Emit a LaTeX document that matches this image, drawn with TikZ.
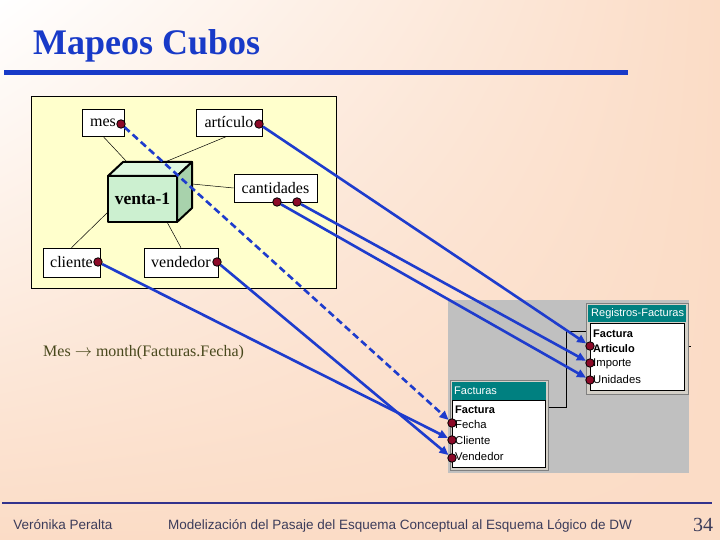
\documentclass[tikz,border=0pt]{standalone}
\usepackage{fontspec}
\setmainfont{Liberation Serif}
\newfontfamily\winfont{Liberation Sans}
\usetikzlibrary{arrows.meta,shadings}
\definecolor{peach}{RGB}{251,220,198}
\definecolor{paleyellow}{RGB}{255,255,204}
\definecolor{titleblue}{RGB}{24,58,200}
\definecolor{mapblue}{RGB}{30,60,205}
\definecolor{dotred}{RGB}{140,10,40}
\definecolor{cubefront}{RGB}{204,240,208}
\definecolor{cubetop}{RGB}{222,248,224}
\definecolor{cubeside}{RGB}{168,210,172}
\definecolor{wingray}{RGB}{192,192,192}
\definecolor{winface}{RGB}{212,208,200}
\definecolor{teal}{RGB}{0,128,128}
\definecolor{footblue}{RGB}{50,50,140}
\definecolor{foottext}{RGB}{60,60,90}
\definecolor{olive}{RGB}{72,72,28}
\begin{document}
\begin{tikzpicture}[x=1pt,y=-1pt,
  attr/.style={draw=black, fill=white, line width=0.6pt, inner sep=0pt,
    font=\fontsize{16}{16}\selectfont},
  dot/.style={circle, draw=black, fill=dotred, line width=0.8pt, minimum size=8.5pt, inner sep=0pt},
  map/.style={draw=mapblue, line width=2.6pt, -{Triangle[length=9pt,width=8pt]}},
  dashmap/.style={map, dash pattern=on 7pt off 4pt},
  link/.style={draw=black, line width=0.5pt},
  cubeface/.style={draw=black, line width=2pt, line join=round},
  field/.style={anchor=west, inner sep=0pt, font=\winfont\fontsize{11.3}{11.3}\selectfont},
  boldfield/.style={field, font=\winfont\bfseries\fontsize{11}{11}\selectfont},
  winbox/.style={draw=gray, fill=winface, line width=1pt, inner sep=0pt},
  winbar/.style={fill=teal, inner sep=0pt},
  winlist/.style={draw=black, fill=white, line width=1pt, inner sep=0pt},
  wintitle/.style={anchor=west, inner sep=0pt, text=white, font=\winfont\fontsize{11}{11}\selectfont}
]
\useasboundingbox (0,0) rectangle (720,540);
\shade[upper left=white, upper right=peach, lower left=peach, lower right=peach] (0,0) rectangle (720,540);

% title
\node[anchor=base west, inner sep=0pt, text=titleblue, font=\bfseries\fontsize{36}{36}\selectfont] (title) at (33,55) {Mapeos Cubos};
\fill[titleblue] (4,70) rectangle (628,75);

% yellow panel
\node[draw=black, fill=paleyellow, line width=0.6pt, minimum width=305pt, minimum height=192pt, inner sep=0pt] (panel) at (183.5,192) {};

% attribute boxes
\node[attr, minimum width=42pt, minimum height=27pt] (mes) at (103,122.5) {mes\hspace{3pt}};
\node[attr, minimum width=66pt, minimum height=27pt] (art) at (229,122.5) {artículo\hspace{2pt}};
\node[attr, minimum width=83pt, minimum height=28pt] (can) at (275.5,188) {cantidades};
\node[attr, minimum width=57pt, minimum height=29pt] (cli) at (71.5,262.5) {cliente\hspace{2pt}};
\node[attr, minimum width=74pt, minimum height=29pt] (ven) at (181,262.5) {vendedor\hspace{2pt}};

% cube anchor points
\coordinate (cmes) at (127,162);
\coordinate (cart) at (165,162);
\coordinate (ccan) at (192,184);
\coordinate (ccli) at (108,212);
\coordinate (cven) at (167,222);
\draw[link] (mes.south) -- (cmes);
\draw[link] ([xshift=-2pt]art.south) -- (cart);
\draw[link] (can.west) -- (ccan);
\draw[link] (cli.north) -- (ccli);
\draw[link] (ven.north) -- (cven);

% cube
\filldraw[cubeface, fill=cubetop] (108,176) -- (123,162) -- (192,162) -- (177,176) -- cycle;
\filldraw[cubeface, fill=cubeside] (177,176) -- (192,162) -- (192,208) -- (177,222) -- cycle;
\node[cubeface, fill=cubefront, minimum width=69pt, minimum height=46pt, inner sep=0pt,
  font=\bfseries\fontsize{17.5}{17.5}\selectfont] (cube) at (142.5,199) {venta-1};

% formula
\node[anchor=base west, inner sep=0pt, text=olive, font=\fontsize{16}{16}\selectfont] (formula) at (43,356) {Mes $\rightarrow$ month(Facturas.Fecha)};

% gray area
\fill[wingray] (448,300) rectangle (689,473);

% Registros-Facturas window
\node[winbox, minimum width=102pt, minimum height=91pt] (reg) at (637,348.5) {};
\node[winbar, minimum width=98pt, minimum height=17pt] (regbar) at (637,313.5) {};
\node[wintitle] (regtitle) at (591,314) {Registros-Facturas};
\node[winlist, minimum width=94pt, minimum height=67pt] (reglist) at (637,356.5) {};
\node[boldfield] (fFac1) at (593,334) {Factura};
\node[boldfield] (fArt) at (593,349) {Articulo};
\node[field] (fImp) at (593,364) {Importe};
\node[field] (fUni) at (593,379) {Unidades};

% Facturas window
\node[winbox, minimum width=98pt, minimum height=90pt] (fac) at (499,425) {};
\node[winbar, minimum width=94pt, minimum height=18pt] (facbar) at (499,391) {};
\node[wintitle] (factitle) at (454,391) {Facturas};
\node[winlist, minimum width=93pt, minimum height=67pt] (faclist) at (498.5,433.5) {};
\node[boldfield] (fFac2) at (455,410) {Factura};
\node[field] (fFec) at (455,424) {Fecha};
\node[field] (fCli) at (455,440) {Cliente};
\node[field] (fVen) at (455,456) {Vendedor};

% join line between tables
\coordinate (j1) at (566,407);
\coordinate (j2) at (566,331);
\coordinate (j3) at (586,331);
\draw[black, line width=1pt] (fac.east |- j1) -- (j1) -- (j2) -- (j3);
\coordinate (tick) at (691,346);
\draw[black, line width=1pt] (reg.east |- tick) -- (tick);

% source dots
\node[dot] (dmes) at (121,124) {};
\node[dot] (dart) at (259,124) {};
\node[dot] (dcan1) at (277,202) {};
\node[dot] (dcan2) at (297,202) {};
\node[dot] (dcli) at (98,262) {};
\node[dot] (dven) at (217,262) {};
% target dots
\node[dot] (tArt) at (590,346) {};
\node[dot] (tImp) at (590,363) {};
\node[dot] (tUni) at (590,380) {};
\node[dot] (tFec) at (452,423) {};
\node[dot] (tCli) at (452,440) {};
\node[dot] (tVen) at (452,458) {};

% mappings
\draw[dashmap] (dmes) -- (tFec);
\draw[map] (dart) -- (tArt);
\draw[map] (dcan2) -- (tImp);
\draw[map] (dcan1) -- (tUni);
\draw[map] (dcli) -- (tCli);
\draw[map] (dven) -- (tVen);

% footer
\fill[footblue] (2,502) rectangle (712,504);
\node[anchor=base, inner sep=0pt, text=foottext, font=\winfont\fontsize{13.5}{13.5}\selectfont] (author) at (63,529) {Verónika Peralta};
\node[anchor=base, inner sep=0pt, text=foottext, font=\winfont\fontsize{13.5}{13.5}\selectfont] (foottitle) at (400,529) {Modelización del Pasaje del Esquema Conceptual al Esquema Lógico de DW};
\node[anchor=base, inner sep=0pt, text=foottext, font=\fontsize{20}{20}\selectfont] (page) at (703,531) {34};
\end{tikzpicture}
\end{document}
